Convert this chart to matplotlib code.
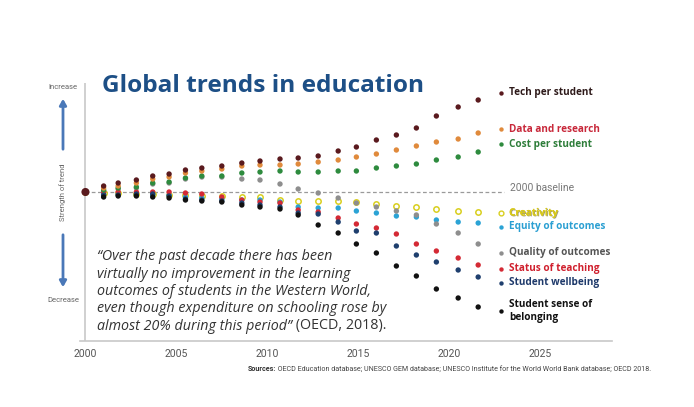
import matplotlib
matplotlib.use("Agg")
import matplotlib.pyplot as plt
import matplotlib.patheffects as pe

# --- data (strength of trend, relative to the 2000 baseline) ---
years = [2000.0, 2001.0, 2001.8, 2002.8, 2003.7, 2004.6, 2005.5, 2006.4, 2007.5, 2008.6, 2009.6,
         2010.7, 2011.7, 2012.8, 2013.9, 2014.9, 2016.0, 2017.1, 2018.2, 2019.3, 2020.5, 2021.6]

tech = [0, 6, 9, 12, 16, 18, 22, 24, 26, 29, 31, 33, 34, 36, 41, 45, 52, 57, 64, 76, 85, 92]
data_research = [0, 4, 6, 9, 13, 15, 19, 21, 23, 26, 27, 27, 28, 30, 32, 35, 38, 42, 46, 50, 53, 59]
cost = [0, 2, 4, 5, 9, 10, 14, 16, 16, 19, 20, 21, 20, 20, 21, 21, 24, 26, 28, 32, 35, 40]
quality = [0, 1, 3, 4, 8, 9, 13, 15, 15, 13, 12, 8, 3, -1, -6, -11, -15, -19, -23, -32, -41, -52]
creativity = [0, -1, -1, -2, -2, -3, -3, -4, -4, -5, -5, -8, -9, -9, -9, -10, -12, -14, -15, -17, -19, -20]
equity = [0, -2, -2, -3, -3, -3, -5, -6, -7, -8, -8, -10, -15, -16, -16, -19, -21, -24, -25, -28, -30, -31]
status = [0, 0, 0, 0, 0, 0, -1, -2, -5, -8, -10, -11, -18, -20, -26, -32, -36, -42, -52, -59, -66, -73]
wellbeing = [0, -3, -3, -2, -2, -4, -7, -8, -9, -11, -13, -15, -21, -22, -30, -39, -41, -54, -63, -70, -78, -85]
belonging = [0, -5, -4, -4, -5, -6, -8, -9, -10, -13, -15, -17, -23, -33, -41, -52, -61, -74, -84, -97, -106, -115]

tick_years = [2000, 2005, 2010, 2015, 2020, 2025]

# name, values, dot colour, label colour, legend y
series = [
    ("Creativity", creativity, "#d9cf1f", "#d8c91a", -21),
    ("Equity of outcomes", equity, "#2ba3d5", "#2a9fd2", -35),
    ("Quality of outcomes", quality, "#8e8e8e", "#555555", -61),
    ("Status of teaching", status, "#d42a35", "#d0202e", -77),
    ("Student wellbeing", wellbeing, "#1f3f6e", "#1f3a6b", -91),
    ("Student sense of\nbelonging", belonging, "#111111", "#111111", -119),
    ("Cost per student", cost, "#2e8b3e", "#2e7d3a", 48),
    ("Data and research", data_research, "#e08a3c", "#c8283a", 63),
    ("Tech per student", tech, "#5a1a1e", "#2e1a1a", 99),
]

W, H = 694, 407
fig = plt.figure(figsize=(W / 100, H / 100), dpi=100)
ax = fig.add_axes([80 / W, 1 - 341 / H, (612 - 80) / W, (341 - 83) / H])
ax.set_xlim(1999.7, 2028.96)
ax.set_ylim(-149, 109)

for sp in ["top", "right", "left"]:
    ax.spines[sp].set_visible(False)
ax.spines["bottom"].set_color("#c8c8c8")
ax.spines["bottom"].set_linewidth(1.2)
ax.axvline(2000, color="#c8c8c8", lw=1.2)

ax.set_yticks([])
ax.set_xticks(tick_years)
ax.set_xticklabels([str(t) for t in tick_years], fontsize=7.5, color="#555555", family="Roboto")
ax.tick_params(axis="x", length=0, pad=6)

# 2000 baseline
ax.hlines(0, 2000, 2023.0, colors="#9a9a9a", linestyles=(0, (3, 2)), lw=0.9, zorder=1)
ax.text(2023.35, 4, "2000 baseline", fontsize=7.4, color="#777777", va="center", family="Roboto")

for name, vals, dot_c, lab_c, ly in series:
    if name == "Creativity":
        ax.scatter(years, vals, s=15, facecolor="white", edgecolor=dot_c, lw=1.1, zorder=3)
        ax.scatter([2022.85], [ly], s=12, facecolor="white", edgecolor=dot_c, lw=1.0, zorder=3)
        fx = [pe.withSimplePatchShadow(offset=(0.6, -0.6), shadow_rgbFace="#7a7440", alpha=0.7), pe.Normal()]
    else:
        sizes = [34 if i == 0 and name.startswith("Tech") else 15 for i in range(len(vals))]
        ax.scatter(years, vals, s=sizes, color=dot_c, lw=0, zorder=3)
        ax.scatter([2022.85], [ly], s=10, color=dot_c, lw=0, zorder=3)
        fx = None
    ax.text(2023.3, ly, name, fontsize=7.2, fontweight="bold", color=lab_c, va="center",
            family="Open Sans", linespacing=1.2, path_effects=fx)

# title
fig.text(102 / W, 1 - 92 / H, "Global trends in education", fontsize=17.6, fontweight="bold",
         color="#1d4f86", family="Open Sans", va="baseline")

# left side "strength of trend" arrow
ax_x = 63 / W
fig.text(ax_x, 1 - 87 / H, "Increase", fontsize=5.5, color="#666666", ha="center", va="center", family="Roboto")
fig.text(ax_x, 1 - 300 / H, "Decrease", fontsize=5.5, color="#666666", ha="center", va="center", family="Roboto")
fig.patches.append(matplotlib.patches.FancyArrowPatch(
    (ax_x, 1 - 152 / H), (ax_x, 1 - 96 / H), transform=fig.transFigure,
    arrowstyle="-|>,head_length=3.5,head_width=2", color="#4a78b8", lw=2))
fig.patches.append(matplotlib.patches.FancyArrowPatch(
    (ax_x, 1 - 232 / H), (ax_x, 1 - 290 / H), transform=fig.transFigure,
    arrowstyle="-|>,head_length=3.5,head_width=2", color="#4a78b8", lw=2))
fig.text(ax_x, 1 - 192 / H, "Strength of trend", fontsize=5.5, color="#666666", rotation=90,
         ha="center", va="center", family="Roboto")

# quote
quote_lines = [
    "\u201cOver the past decade there has been",
    "virtually no improvement in the learning",
    "outcomes of students in the Western World,",
    "even though expenditure on schooling rose by",
]
for i, line in enumerate(quote_lines):
    fig.text(97 / W, 1 - (257 + 17.3 * i) / H, line, fontsize=10.3, style="italic",
             color="#333333", va="center", family="Open Sans")
last = fig.text(97 / W, 1 - 326 / H, "almost 20% during this period\u201d", fontsize=10.3,
                style="italic", color="#333333", va="center", family="Open Sans")
fig.canvas.draw()
ax.annotate(" (OECD, 2018).", xy=(1, 0.5), xycoords=last, fontsize=10.3, color="#333333",
            va="center", family="Open Sans", annotation_clip=False)

# sources
src = fig.text(248 / W, 1 - 369 / H, "Sources:", fontsize=5.1, fontweight="bold",
               color="#333333", va="center", family="Roboto")
ax.annotate(" OECD Education database; UNESCO GEM database; UNESCO Institute for the World World Bank database; OECD 2018.",
            xy=(1, 0.5), xycoords=src, fontsize=5.1, color="#444444", va="center",
            family="Roboto", annotation_clip=False)

fig.savefig("out.png", dpi=100, facecolor="white")
